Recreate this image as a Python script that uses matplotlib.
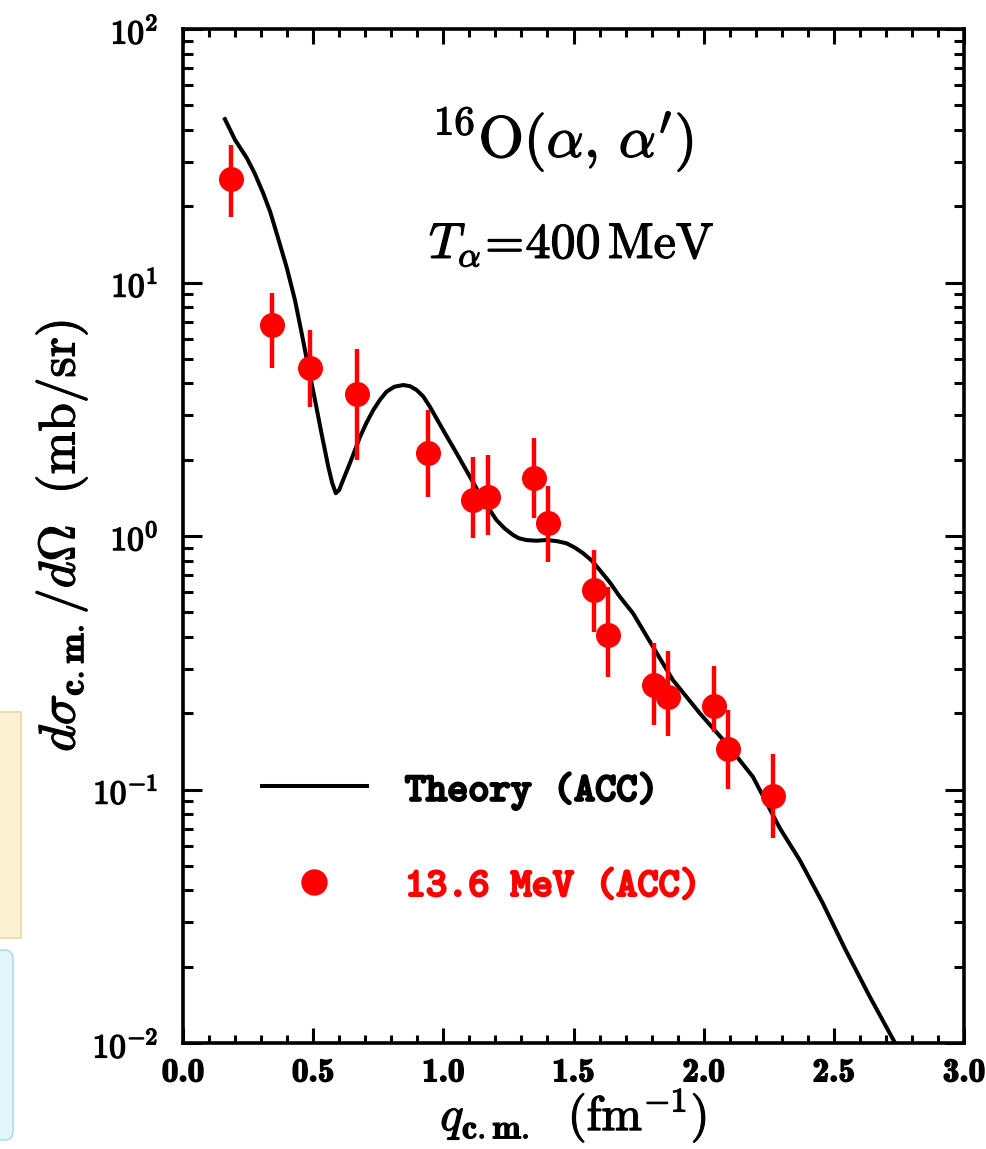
import matplotlib
matplotlib.use("Agg")
import matplotlib.pyplot as plt
import numpy as np
from matplotlib.ticker import MultipleLocator, LogLocator, NullFormatter
from matplotlib.font_manager import FontProperties
from matplotlib.lines import Line2D
from matplotlib.patches import Rectangle, FancyBboxPatch
import matplotlib.patheffects as pe

plt.rcParams['mathtext.fontset'] = 'cm'

# ---------------- data ----------------
theory_q = [0.161, 0.200, 0.245, 0.275, 0.308, 0.335, 0.360, 0.398, 0.430, 0.456,
            0.481, 0.507, 0.532, 0.558, 0.573, 0.587, 0.600, 0.615, 0.641, 0.680,
            0.705, 0.731, 0.757, 0.782, 0.812, 0.846, 0.872, 0.897, 0.923, 0.948,
            0.999, 1.051, 1.102, 1.153, 1.204, 1.236, 1.268, 1.290, 1.319, 1.357,
            1.396, 1.435, 1.473, 1.505, 1.537, 1.570, 1.601, 1.640, 1.678, 1.729,
            1.805, 1.882, 1.985, 2.087, 2.189, 2.292, 2.369, 2.457, 2.545, 2.637,
            2.733]
theory_xs = [44.1, 36.5, 31.0, 27.0, 22.5, 19.0, 15.6, 11.5, 8.53, 6.30,
             4.65, 3.44, 2.54, 1.877, 1.62, 1.474, 1.52, 1.663, 1.936, 2.46,
             2.80, 3.14, 3.45, 3.71, 3.88, 3.94, 3.90, 3.77, 3.55, 3.24,
             2.62, 2.12, 1.714, 1.387, 1.156, 1.07, 1.009, 0.980, 0.964, 0.958,
             0.964, 0.955, 0.936, 0.900, 0.855, 0.800, 0.734, 0.655, 0.576, 0.495,
             0.366, 0.270, 0.200, 0.152, 0.1123, 0.0705, 0.0527, 0.0357, 0.0233, 0.0153,
             0.0101]

data_q = [0.184, 0.342, 0.488, 0.668, 0.940, 1.113, 1.171, 1.347, 1.401, 1.578,
          1.631, 1.808, 1.862, 2.038, 2.092, 2.265]
data_xs = [25.6, 6.80, 4.60, 3.63, 2.13, 1.387, 1.425, 1.69, 1.126, 0.612,
           0.407, 0.258, 0.2317, 0.2136, 0.1445, 0.0943]
data_hi = [34.9, 9.09, 6.49, 5.47, 3.14, 2.05, 2.09, 2.44, 1.575, 0.881,
           0.629, 0.378, 0.352, 0.307, 0.206, 0.138]
data_lo = [18.1, 4.60, 3.23, 1.99, 1.425, 0.982, 1.01, 1.18, 0.790, 0.418,
           0.278, 0.180, 0.1626, 0.1686, 0.1005, 0.0644]

x_ticks = [0.0, 0.5, 1.0, 1.5, 2.0, 2.5, 3.0]
x_ticklabels = ["0.0", "0.5", "1.0", "1.5", "2.0", "2.5", "3.0"]
y_ticks = [1e-2, 1e-1, 1e0, 1e1, 1e2]
y_ticklabels = [r"$\mathbf{10^{-2}}$", r"$\mathbf{10^{-1}}$", r"$\mathbf{10^{0}}$",
                r"$\mathbf{10^{1}}$", r"$\mathbf{10^{2}}$"]

theory_label = "Theory (ACC)"
data_label = "13.6 MeV (ACC)"
red = "#ff0000"

# ---------------- figure ----------------
fig = plt.figure(figsize=(9.86, 11.49), dpi=100)
ax = fig.add_axes([183/986, 1-1043/1149, (964-183)/986, (1043-29)/1149])

# slide decorations at left edge
fig.add_artist(Rectangle((-0.02, 1-938/1149), 0.02+21/986, (938-712)/1149,
                         transform=fig.transFigure, facecolor="#fcf1d2",
                         edgecolor="#e6d8a6", lw=1.2, zorder=0))
fig.add_artist(FancyBboxPatch((-0.03, 1-1140/1149), 0.03+13/986, (1140-950)/1149,
                              boxstyle="round,pad=0,rounding_size=0.008",
                              transform=fig.transFigure, facecolor="#e2f6fc",
                              edgecolor="#b2dcea", lw=1.2, zorder=0))

ax.plot(theory_q, theory_xs, color="black", lw=2.9, solid_joinstyle="round", zorder=3)

yerr = [np.array(data_xs) - np.array(data_lo), np.array(data_hi) - np.array(data_xs)]
ax.errorbar(data_q, data_xs, yerr=yerr, fmt="none", ecolor=red, elinewidth=3.2,
            capsize=0, zorder=4)
ax.plot(data_q, data_xs, ls="none", marker="o", ms=17, color=red, mec=red, zorder=5)

ax.set_yscale("log")

for s in ax.spines.values():
    s.set_linewidth(2.6)

heavy = [pe.withStroke(linewidth=1.1, foreground="black")]
heavy_lbl = [pe.withStroke(linewidth=0.9, foreground="black")]

ax.set_xticks(x_ticks)
ax.set_xticklabels(x_ticklabels, fontsize=24, fontfamily="cmb10")
ax.set_yticks(y_ticks)
ax.set_yticklabels(y_ticklabels, fontsize=24)
ax.xaxis.set_minor_locator(MultipleLocator(0.1))
ax.yaxis.set_minor_locator(LogLocator(base=10, subs=np.arange(2, 10)))
ax.yaxis.set_minor_formatter(NullFormatter())
ax.set_xlim(0, 3.0)
ax.set_ylim(1e-2, 1e2)
for lab in ax.get_xticklabels() + ax.get_yticklabels():
    lab.set_path_effects(heavy)

ax.tick_params(which="both", direction="in", top=True, right=True, width=2.2)
ax.tick_params(axis="x", which="major", length=11, pad=11)
ax.tick_params(axis="x", which="minor", length=5.5)
ax.tick_params(axis="y", which="major", length=14, pad=18)
ax.tick_params(axis="y", which="minor", length=7)

xl = ax.set_xlabel(r"$q_{\mathbf{c{.}m{.}}}\ \ (\mathrm{fm}^{-1})$", fontsize=35, labelpad=0)
yl = ax.set_ylabel(r"$d\sigma_{\mathbf{c{.}m{.}}}/d\Omega\ \ \mathrm{(mb/sr)}$", fontsize=37,
                   labelpad=2)
xl.set_path_effects(heavy_lbl)
yl.set_path_effects(heavy_lbl)

t1 = ax.text(0.318, 0.874, r"$^{\mathbf{16}}\mathrm{O}(\alpha,\,\alpha^{\prime})$",
             transform=ax.transAxes, fontsize=42, ha="left", va="baseline")
t2 = ax.text(0.315, 0.774, r"$T_{\alpha}\!=\!400\,\mathrm{MeV}$",
             transform=ax.transAxes, fontsize=36, ha="left", va="baseline")
t1.set_path_effects(heavy_lbl)
t2.set_path_effects(heavy_lbl)

handles = [Line2D([], [], color="black", lw=2.9),
           Line2D([], [], ls="none", marker="o", ms=18, color=red)]
leg = ax.legend(handles, [theory_label, data_label], loc="center left",
                bbox_to_anchor=(0.101, 0.202), frameon=False, borderpad=0,
                borderaxespad=0, handlelength=2.6, handletextpad=0.95,
                labelspacing=1.44, prop=FontProperties(family="cmtt10", size=29))
for t, c in zip(leg.get_texts(), ["black", red]):
    t.set_color(c)
    t.set_path_effects([pe.withStroke(linewidth=1.8, foreground=c)])

fig.savefig("out.png", dpi=100)
